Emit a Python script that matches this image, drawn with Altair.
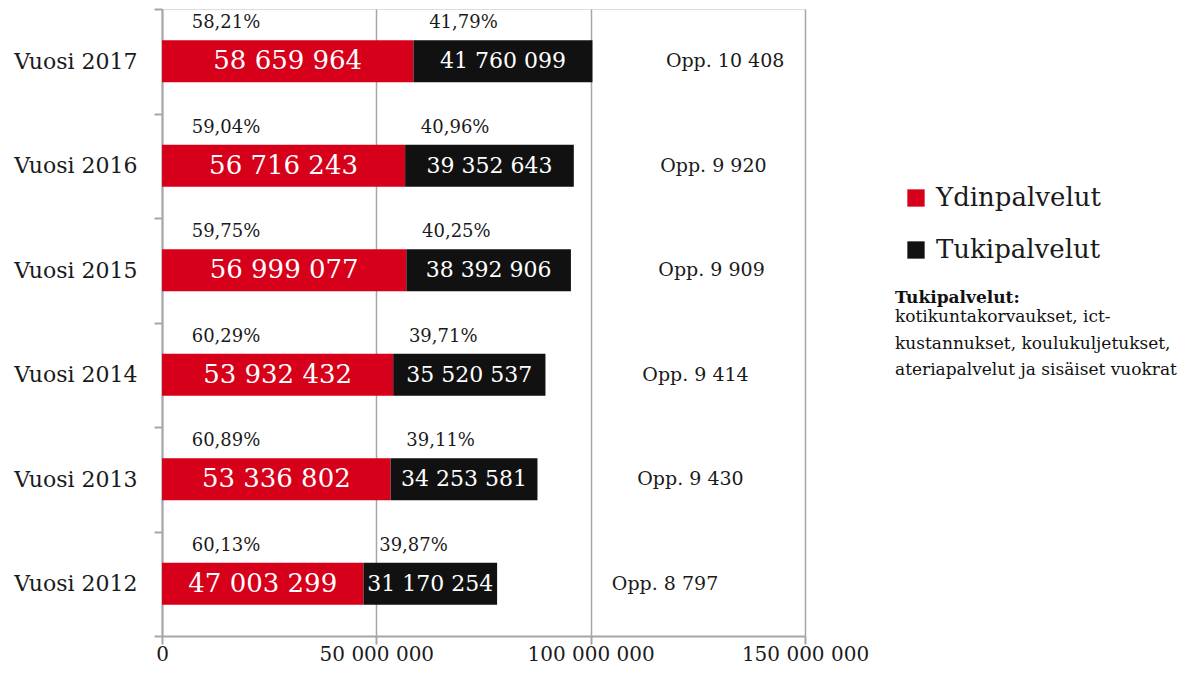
import altair as alt
import pandas as pd

years = ["Vuosi 2017", "Vuosi 2016", "Vuosi 2015", "Vuosi 2014", "Vuosi 2013", "Vuosi 2012"]
ydin = [58659964, 56716243, 56999077, 53932432, 53336802, 47003299]
tuki = [41760099, 39352643, 38392906, 35520537, 34253581, 31170254]
pct_ydin = [58.21, 59.04, 59.75, 60.29, 60.89, 60.13]
pct_tuki = [41.79, 40.96, 40.25, 39.71, 39.11, 39.87]
opp = [10408, 9920, 9909, 9414, 9430, 8797]
series = ["Ydinpalvelut", "Tukipalvelut"]
colors = ["#d7001b", "#111111"]
x_ticks = [0, 50000000, 100000000, 150000000]
note_title = "Tukipalvelut:"
note_lines = ["kotikuntakorvaukset, ict-", "kustannukset, koulukuljetukset,", "ateriapalvelut ja sisäiset vuokrat"]

FONT = "DejaVu Serif"
TXT = "#1a1a1a"
GRID = "#a6a6a6"


def sp(n):
    return f"{n:,}".replace(",", " ")


def pc(p):
    return f"{p:.2f}".replace(".", ",") + "%"


long_rows = []
for i, y in enumerate(years):
    long_rows.append({"year": y, "series": series[0], "value": ydin[i], "ord": 0})
    long_rows.append({"year": y, "series": series[1], "value": tuki[i], "ord": 1})
long = pd.DataFrame(long_rows)

totals = [a + b for a, b in zip(ydin, tuki)]
wide = pd.DataFrame({
    "year": years,
    "ydin": ydin,
    "tuki": tuki,
    "ymid": [a / 2 for a in ydin],
    "tmid": [a + b / 2 for a, b in zip(ydin, tuki)],
    "total": totals,
    # annotation sits to the right of each bar, drifting with its total
    "oppx": [0.63 * t + 68100000 for t in totals],
    "ylab": [sp(v) for v in ydin],
    "tlab": [sp(v) for v in tuki],
    "yp": [pc(p) for p in pct_ydin],
    "tp": [pc(p) for p in pct_tuki],
    "opp": ["Opp. " + sp(v) for v in opp],
})

xscale = alt.Scale(domain=[0, 150000000], nice=False, zero=True)
yenc = alt.Y(
    "year:N",
    sort=years,
    title=None,
    scale=alt.Scale(paddingInner=0, paddingOuter=0),
    axis=alt.Axis(
        tickBand="extent", grid=False, domainColor=GRID, domainWidth=2,
        tickColor=GRID, tickWidth=2, tickSize=8, labelPadding=17,
        labelFont=FONT, labelFontSize=22, labelColor=TXT,
    ),
)

bars = alt.Chart(long).mark_bar(size=42).encode(
    x=alt.X(
        "value:Q", stack="zero", scale=xscale, title=None,
        axis=alt.Axis(
            values=x_ticks, grid=True, gridColor=GRID, gridWidth=1.5,
            domainColor=GRID, domainWidth=2, tickColor=GRID, tickWidth=2,
            tickSize=8, labelPadding=0, labelFont=FONT, labelFontSize=20,
            labelColor=TXT, labelBaseline="top", labelFlush=False,
            labelOverlap=False,
            labelExpr="datum.value == 0 ? '0' : format(datum.value / 1000000, 'd') + ' 000 000'",
        ),
    ),
    y=yenc,
    color=alt.Color(
        "series:N",
        scale=alt.Scale(domain=series, range=colors),
        legend=alt.Legend(
            title=None, orient="none", legendX=741, legendY=176, padding=0,
            symbolType="square", symbolSize=300, symbolStrokeWidth=0,
            labelFont=FONT, labelFontSize=26, labelColor=TXT, labelLimit=0,
            labelOffset=7, rowPadding=26,
        ),
    ),
    order=alt.Order("ord:Q"),
)

base = alt.Chart(wide)

ylab = base.mark_text(font=FONT, fontSize=26, color="white").encode(
    x=alt.X("ymid:Q"), y=alt.Y("year:N", sort=years), text="ylab:N"
)
tlab = base.mark_text(font=FONT, fontSize=22, color="white").encode(
    x=alt.X("tmid:Q"), y=alt.Y("year:N", sort=years), text="tlab:N"
)
yp = base.mark_text(font=FONT, fontSize=18, color=TXT, dy=-38).encode(
    x=alt.value(64), y=alt.Y("year:N", sort=years), text="yp:N"
)
tp = base.mark_text(font=FONT, fontSize=18, color=TXT, dy=-38, dx=50).encode(
    x=alt.X("ydin:Q"), y=alt.Y("year:N", sort=years), text="tp:N"
)
opp_t = base.mark_text(font=FONT, fontSize=19, color=TXT).encode(
    x=alt.X("oppx:Q"), y=alt.Y("year:N", sort=years), text="opp:N"
)

one = pd.DataFrame({"a": [0]})
note_head = alt.Chart(one).mark_text(
    text=note_title, font=FONT, fontSize=17, fontWeight="bold", color="#111111",
    align="left", baseline="middle",
).encode(x=alt.value(733), y=alt.value(289))
note_body = alt.Chart(one).mark_text(
    text=note_lines, font=FONT, fontSize=17, color="#111111",
    align="left", baseline="middle", lineHeight=26.5,
).encode(x=alt.value(733), y=alt.value(308))

chart = alt.layer(bars, ylab, tlab, yp, tp, opp_t, note_head, note_body).properties(
    width=643,
    height=627,
    autosize=alt.AutoSizeParams(type="none"),
    padding={"left": 154, "top": 1, "right": 378, "bottom": 33},
).configure_view(stroke=None).configure(background="white")

chart.save("out.html", embed_options={"renderer": "svg", "actions": False})
